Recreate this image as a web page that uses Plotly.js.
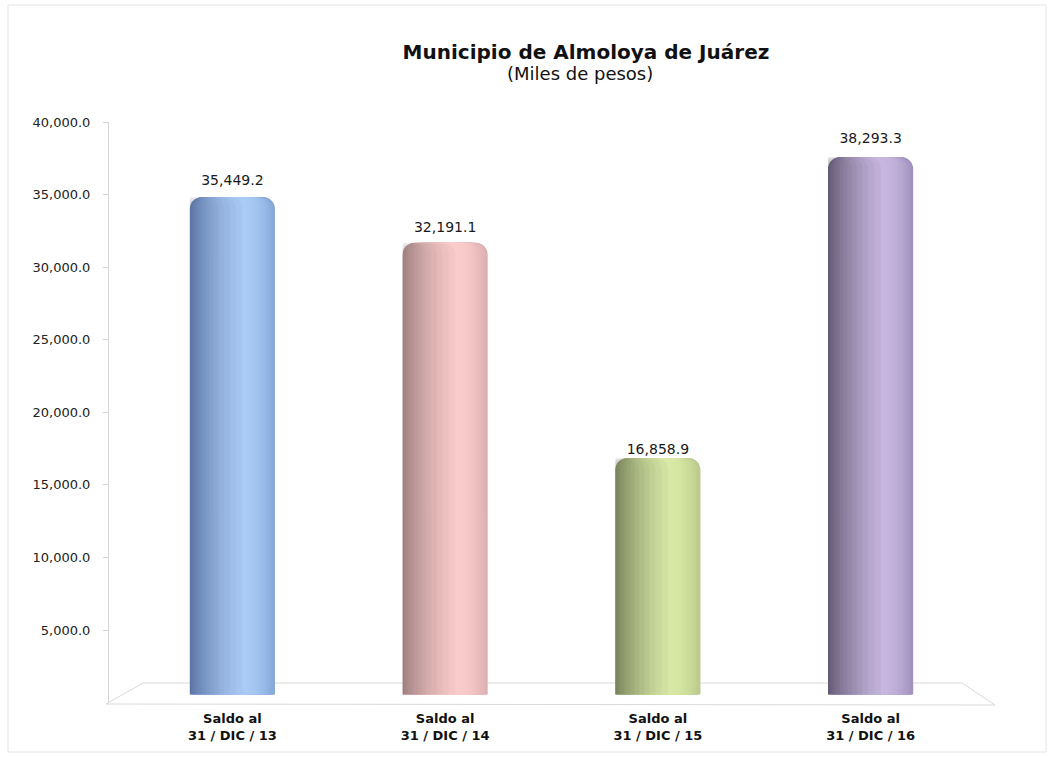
<!DOCTYPE html>
<html>
<head>
<meta charset="utf-8">
<script src="https://cdn.plot.ly/plotly-3.0.1.min.js"></script>
<style>html,body{margin:0;padding:0;background:#fff;}#chart{width:1052px;height:757px;}</style>
</head>
<body>
<div id="chart"></div>
<script>
// ---- data ----
const categories = ['Saldo al<br>31 / DIC / 13', 'Saldo al<br>31 / DIC / 14', 'Saldo al<br>31 / DIC / 15', 'Saldo al<br>31 / DIC / 16'];
const values = [35449.2, 32191.1, 16858.9, 38293.3];
const tickValues = [5000, 10000, 15000, 20000, 25000, 30000, 35000, 40000];
const titleText = 'Municipio de Almoloya de Juárez';
const subtitleText = '(Miles de pesos)';

// ---- style: cylinder shading (rim colour, highlight colour) per bar ----
const rimColors = ['#84a6d8', '#dcaeb0', '#b9c98b', '#a090bd'];
const highlightColors = ['#a9cbf5', '#facccb', '#d9e9a6', '#c7b7df'];
const shadowStrength = [0.024, 0.027, 0.034, 0.038];
const FONT = 'DejaVu Sans, Arial, sans-serif';
const W = 0.40;          // bar width in category units
const C = 0.62;          // highlight position across the bar (0 = left)
const N_LAYERS = 22;
const N_SHADOW = 14;

function hexToRgb(h) { return [1, 3, 5].map(i => parseInt(h.substr(i, 2), 16)); }
function mix(a, b, t) {
  const A = hexToRgb(a), B = hexToRgb(b);
  return 'rgb(' + A.map((v, k) => Math.round(v + (B[k] - v) * t)).join(',') + ')';
}

const traces = [];
// nested layers around the highlight
for (let i = 0; i < N_LAYERS; i++) {
  const u = 1 - i / N_LAYERS;
  const shade = 1 - u * u;
  traces.push({
    type: 'bar', x: categories, y: values, xaxis: 'x', yaxis: 'y2',
    width: W * u,
    offset: -W / 2 + C * W * (1 - u),
    marker: {
      color: rimColors.map((c, k) => mix(c, highlightColors[k], shade)),
      cornerradius: Math.max(2, Math.round(12 * u)),
      line: { width: 0 }
    },
    hoverinfo: 'skip', showlegend: false
  });
}
// shadow on the left side of each cylinder
for (let k = 1; k <= N_SHADOW; k++) {
  const v = Math.pow(k / N_SHADOW, 1.8);
  traces.push({
    type: 'bar', x: categories, y: values, xaxis: 'x', yaxis: 'y2',
    width: C * W * v,
    offset: -W / 2,
    marker: {
      color: shadowStrength.map(a => 'rgba(20,20,30,' + a + ')'),
      cornerradius: Math.min(12, Math.max(1, Math.round(C * W * v * 212 / 2))),
      line: { width: 0 }
    },
    hoverinfo: 'skip', showlegend: false
  });
}
traces.push({
  type: 'scatter', mode: 'text', x: categories, y: values, xaxis: 'x', yaxis: 'y',
  text: values.map(v => v.toLocaleString('en-US', { minimumFractionDigits: 1, maximumFractionDigits: 1 })),
  textposition: 'top center',
  textfont: { family: FONT, size: 14, color: '#1a1a1a' },
  cliponaxis: false, hoverinfo: 'skip', showlegend: false
});

// plot area: x 108..995, y 118..705
const px = v => (v - 108) / 887;
const py = v => (705 - v) / 587;

const layout = {
  width: 1052,
  height: 757,
  paper_bgcolor: '#ffffff',
  plot_bgcolor: 'rgba(0,0,0,0)',
  margin: { l: 108, r: 57, t: 118, b: 52 },
  barmode: 'overlay',
  showlegend: false,
  title: {
    text: '<b>' + titleText + '</b>',
    font: { family: FONT, size: 20, color: '#111111' },
    x: 586 / 1052, xref: 'container', xanchor: 'center',
    y: 1 - 52 / 757, yref: 'container', yanchor: 'middle'
  },
  annotations: [{
    text: subtitleText, showarrow: false,
    xref: 'paper', yref: 'paper', x: px(580), y: py(73),
    xanchor: 'center', yanchor: 'middle',
    font: { family: FONT, size: 18, color: '#111111' }
  }],
  xaxis: {
    type: 'category',
    domain: [px(126), px(977)],
    range: [-0.5, 3.5],
    anchor: 'y',
    showline: false, showgrid: false, zeroline: false,
    ticks: '', ticklabelstandoff: 6,
    tickfont: { family: FONT, size: 13, color: '#111111', weight: 'bold' },
    fixedrange: true
  },
  yaxis: {
    domain: [py(702.6), py(122)],
    range: [0, 40000],
    anchor: 'free', position: 0,
    showline: true, linecolor: '#d6d6d6', linewidth: 1,
    showgrid: false, zeroline: false,
    ticks: 'outside', ticklen: 5, tickcolor: '#d6d6d6',
    tickvals: tickValues,
    tickformat: ',.1f',
    ticklabelstandoff: 10,
    tickfont: { family: FONT, size: 13, color: '#222222' },
    fixedrange: true
  },
  yaxis2: {
    domain: [py(694.7), py(133.1)],
    range: [0, 40000],
    anchor: 'x',
    visible: false,
    fixedrange: true
  },
  shapes: [
    {
      type: 'path', xref: 'paper', yref: 'paper', layer: 'below',
      path: `M ${px(106)} ${py(704)} L ${px(995)} ${py(705)} L ${px(962)} ${py(683)} L ${px(143)} ${py(683)} Z`,
      line: { color: '#d9d9d9', width: 1 }, fillcolor: 'rgba(0,0,0,0)'
    },
    {
      type: 'rect', xref: 'paper', yref: 'paper', layer: 'below',
      x0: px(8), x1: px(1046), y0: py(752), y1: py(5),
      line: { color: '#e4e4e4', width: 1 }, fillcolor: 'rgba(0,0,0,0)'
    }
  ]
};

Plotly.newPlot('chart', traces, layout, { displayModeBar: false, staticPlot: true });
</script>
</body>
</html>
